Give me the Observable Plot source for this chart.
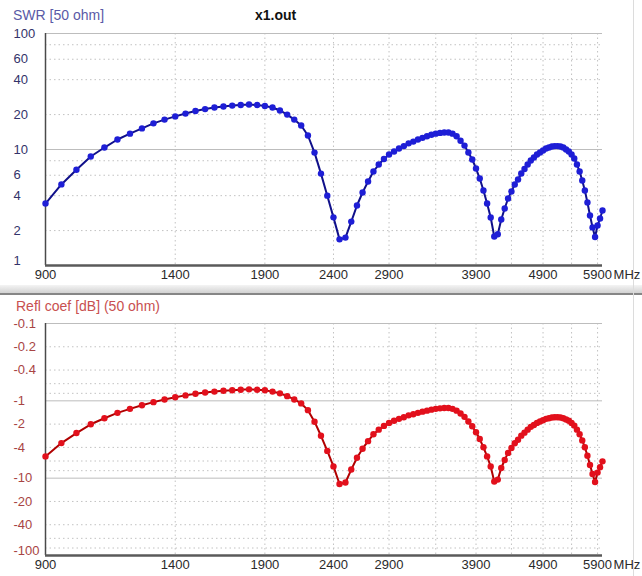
<!DOCTYPE html>
<html>
<head>
<meta charset="utf-8">
<script src="https://cdn.jsdelivr.net/npm/d3@7"></script>
<script src="https://cdn.jsdelivr.net/npm/@observablehq/plot@0.6"></script>
<style>
  body { margin: 0; background: #fff; }
  #wrap { position: relative; width: 642px; height: 576px; overflow: hidden; background: #fff;
          font-family: "Liberation Sans", Arial, sans-serif; }
  .panel { position: absolute; left: 0; }
  .lbl { position: absolute; font-size: 14px; white-space: nowrap; line-height: 16px; }
  #sep { position: absolute; left: 0; top: 285px; width: 642px; height: 8px;
         background: linear-gradient(#f4f4f4, #d2d2d2); border-bottom: 2px solid #868686; }
  #edge { position: absolute; left: 633px; top: 0; width: 1px; height: 576px; background: #dcdcdc; }
</style>
</head>
<body>
<div id="wrap">
  <div id="top" class="panel" style="top:0"></div>
  <div id="sep"></div>
  <div id="bot" class="panel" style="top:295px"></div>
  <div id="edge"></div>
  <div class="lbl" style="left:13px;top:7px;color:#5a5aa6">SWR [50 ohm]</div>
  <div class="lbl" style="left:255px;top:7px;color:#111;font-weight:bold">x1.out</div>
  <div class="lbl" style="left:16px;top:298px;color:#c85050">Refl coef [dB] (50 ohm)</div>
</div>
<script>
// Sweep frequencies, MHz
const freqMHz = [
  900, 950, 1000, 1050, 1100, 1150, 1200, 1250, 1300, 1350,
  1400, 1450, 1500, 1550, 1600, 1650, 1700, 1750, 1800, 1850,
  1900, 1950, 2000, 2050, 2100, 2150, 2200, 2250, 2300, 2350,
  2400, 2450, 2500, 2550, 2600, 2650, 2700, 2750, 2800, 2850,
  2900, 2950, 3000, 3050, 3100, 3150, 3200, 3250, 3300, 3350,
  3400, 3450, 3500, 3550, 3600, 3650, 3700, 3750, 3800, 3850,
  3900, 3950, 4000, 4050, 4100, 4150, 4200, 4250, 4300, 4350,
  4400, 4450, 4500, 4550, 4600, 4650, 4700, 4750, 4800, 4850,
  4900, 4950, 5000, 5050, 5100, 5150, 5200, 5250, 5300, 5350,
  5400, 5450, 5500, 5550, 5600, 5650, 5700, 5750, 5800, 5850,
  5900, 5950, 6000
];

// SWR referred to 50 ohm
const swr = [
  3.42, 5.0, 6.7, 8.7, 10.4, 12.2, 13.7, 15.2, 16.8, 18.1,
  19.3, 20.4, 21.5, 22.3, 23.0, 23.5, 23.9, 24.2, 24.4, 24.2,
  23.7, 23.0, 21.7, 20.0, 18.1, 16.1, 13.2, 9.4, 6.2, 4.0,
  2.6, 1.68, 1.74, 2.39, 3.29, 4.26, 5.30, 6.46, 7.42, 8.28,
  9.06, 9.61, 10.2, 10.7, 11.3, 11.7, 12.2, 12.6, 13.0, 13.4,
  13.7, 13.9, 14.0, 14.0, 13.7, 13.0, 11.9, 10.8, 9.42, 8.20,
  6.86, 5.62, 4.43, 3.42, 2.59, 1.78, 1.86, 2.49, 3.10, 3.78,
  4.35, 4.99, 5.51, 6.21, 6.79, 7.42, 8.04, 8.53, 9.06, 9.42,
  9.80, 10.2, 10.4, 10.6, 10.7, 10.7, 10.6, 10.4, 10.0, 9.61,
  9.06, 8.36, 7.42, 6.46, 5.40, 4.43, 3.49, 2.70, 2.13, 1.76,
  2.21, 2.54, 2.98
];

// Reflection coefficient in dB, 50 ohm
const reflDb = [
  -5.23, -3.52, -2.61, -2.01, -1.68, -1.43, -1.27, -1.14, -1.04, -0.96,
  -0.90, -0.85, -0.81, -0.78, -0.76, -0.74, -0.73, -0.72, -0.71, -0.72,
  -0.73, -0.76, -0.80, -0.87, -0.96, -1.08, -1.32, -1.86, -2.83, -4.44,
  -7.04, -11.91, -11.37, -7.74, -5.45, -4.16, -3.32, -2.71, -2.36, -2.11,
  -1.93, -1.81, -1.71, -1.63, -1.54, -1.49, -1.43, -1.38, -1.34, -1.30,
  -1.27, -1.25, -1.24, -1.24, -1.27, -1.34, -1.46, -1.61, -1.85, -2.13,
  -2.55, -3.12, -3.99, -5.23, -7.07, -11.04, -10.44, -7.39, -5.81, -4.71,
  -4.07, -3.53, -3.19, -2.82, -2.58, -2.36, -2.17, -2.05, -1.93, -1.85,
  -1.78, -1.71, -1.68, -1.64, -1.63, -1.63, -1.64, -1.68, -1.74, -1.81,
  -1.93, -2.09, -2.36, -2.71, -3.25, -3.99, -5.12, -6.76, -8.85, -11.20,
  -8.47, -7.23, -6.06
];

// Frequency axis
const freqGrid = [900, 1400, 1900, 2400, 2900, 3400, 3900, 4400, 4900, 5400, 5900];
const freqLabels = [900, 1400, 1900, 2400, 2900, 3900, 4900, 5900];
const freqDomain = [900, 6000];

// SWR axis
const swrDomain = [1, 100];
const swrLabels = [1, 2, 4, 6, 10, 20, 40, 60, 100];
const swrGridDotted = [2, 4, 6, 8, 20, 40, 60, 80];
const swrGridSolid = [10, 100];

// Reflection axis
const dbDomain = [-100, -0.1];
const dbLabels = [-0.1, -0.2, -0.4, -1, -2, -4, -10, -20, -40, -100];
const dbGridDotted = [-0.2, -0.4, -0.6, -0.8, -2, -4, -6, -8, -20, -40, -60, -80];
const dbGridSolid = [-0.1, -1, -10];

const rows = freqMHz.map((f, i) => ({f, swr: swr[i], db: reflDb[i]}));

const font = '"Liberation Sans", Arial, sans-serif';

function panel({yKey, yDomain, yLabels, gridDotted, gridSolid, labelColor, lineColor, dotColor, marginTop, marginBottom}) {
  const floor = yDomain[0];
  return Plot.plot({
    width: 642,
    height: 281,
    marginLeft: 45,
    marginRight: 40,
    marginTop,
    marginBottom,
    style: {fontFamily: font, fontSize: "13px", background: "transparent", overflow: "visible"},
    x: {type: "log", domain: freqDomain, axis: null},
    y: {type: "log", domain: yDomain, axis: null},
    marks: [
      Plot.ruleX(freqGrid, {x: d => d, stroke: "#c2c2c2", strokeDasharray: "1.5,3"}),
      Plot.ruleY(gridDotted, {y: d => d, stroke: "#c2c2c2", strokeDasharray: "1.5,3"}),
      Plot.ruleY(gridSolid, {y: d => d, stroke: "#bdbdbd", strokeWidth: 1}),
      Plot.ruleX([freqDomain[0]], {x: d => d, stroke: "#4a4a4a", strokeWidth: 1.5}),
      Plot.ruleY([floor], {y: d => d, stroke: "#5a5a5a", strokeWidth: 2.5}),
      // value labels, left-aligned in the margin; the lowest one sits just above the axis
      Plot.text(yLabels.filter(d => d !== floor), {
        y: d => d, text: d => String(d), frameAnchor: "left", dx: -32,
        textAnchor: "start", fill: labelColor, fontSize: 13
      }),
      Plot.text([floor], {
        y: d => d, text: d => String(d), frameAnchor: "left", dx: -32, dy: -5,
        textAnchor: "start", fill: labelColor, fontSize: 13
      }),
      Plot.text(freqLabels, {
        x: d => d, text: d => String(d), frameAnchor: "bottom", dy: 13,
        fill: "#2a2a2a", fontSize: 13
      }),
      Plot.text(["MHz"], {
        x: () => 5900, text: d => d, frameAnchor: "bottom", dy: 13, dx: 16,
        textAnchor: "start", fill: "#2a2a2a", fontSize: 13
      }),
      Plot.line(rows, {x: "f", y: yKey, stroke: lineColor, strokeWidth: 2}),
      Plot.dot(rows, {x: "f", y: yKey, r: 3.2, fill: dotColor, stroke: "none"})
    ]
  });
}

document.getElementById("top").append(panel({
  yKey: "swr", yDomain: swrDomain, yLabels: swrLabels,
  gridDotted: swrGridDotted, gridSolid: swrGridSolid,
  labelColor: "#33336a", lineColor: "#10108a", dotColor: "#1e1ed6",
  marginTop: 33, marginBottom: 16
}));

document.getElementById("bot").append(panel({
  yKey: "db", yDomain: dbDomain, yLabels: dbLabels,
  gridDotted: dbGridDotted, gridSolid: dbGridSolid,
  labelColor: "#a84444", lineColor: "#b00000", dotColor: "#e2101c",
  marginTop: 28, marginBottom: 21
}));
</script>
</body>
</html>
